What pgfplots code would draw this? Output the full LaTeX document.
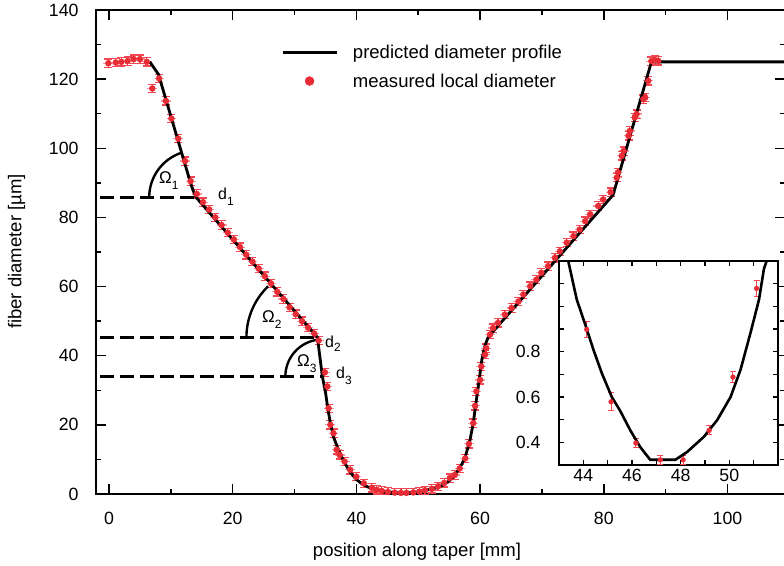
\documentclass[border=0pt]{standalone}
\usepackage{fontspec}
\setmainfont{Liberation Sans}
\usepackage{pgfplots}
\pgfplotsset{compat=1.18}

\definecolor{mred}{RGB}{232,44,54}
\definecolor{ebar}{RGB}{242,70,80}

% measured local diameter along the taper (position in mm, diameter in um)
\pgfplotstableread{
x y
-0.1 124.6
1.1 124.8
2.0 125.0
3.0 125.2
4.0 125.8
5.0 125.8
6.1 125.0
7.0 117.3
8.1 120.2
9.2 113.7
10.1 108.6
11.2 102.8
12.3 96.3
13.2 90.5
14.2 86.8
15.2 84.4
16.2 82.3
17.2 80.0
18.2 77.8
19.2 75.6
20.2 73.6
21.2 71.4
22.2 69.2
23.2 67.2
24.2 65.2
25.2 63.0
26.2 60.9
27.2 58.5
28.2 56.4
29.2 54.0
30.2 52.0
31.2 50.0
32.2 48.1
33.2 46.4
33.9 44.4
34.9 35.2
35.3 31.1
35.5 24.8
35.8 20.0
36.3 17.6
36.8 12.8
37.3 11.3
38.1 9.4
39.0 7.0
40.0 5.0
41.2 3.1
42.5 1.8
43.3 1.2
44.1 0.90
45.1 0.58
46.2 0.40
47.2 0.32
48.1 0.32
49.2 0.45
50.2 0.69
51.1 1.08
52.2 1.5
53.2 2.2
54.2 3.2
55.1 4.6
55.9 5.5
56.7 7.4
57.6 10.3
58.2 14.5
58.9 20.5
59.2 25.5
59.4 29.7
60.0 33.0
60.2 36.9
60.8 40.3
61.0 42.2
61.6 46.1
62.1 48.0
62.9 49.5
64.0 51.9
65.1 53.8
66.2 55.7
67.0 57.7
68.1 60.1
69.1 62.0
69.9 64.0
71.0 65.9
72.1 68.3
72.9 70.2
74.0 72.7
75.1 74.6
76.1 76.5
77.0 78.9
77.8 80.9
79.1 83.3
79.9 85.2
81.1 87.3
82.1 91.5
82.3 93.0
82.9 97.8
83.2 99.2
84.0 103.6
84.2 105.0
85.0 108.9
85.3 109.9
86.4 114.2
86.7 114.7
87.2 119.5
87.7 125.2
88.3 125.5
88.8 125.3
}\measured

% predicted diameter profile
\pgfplotstableread{
x y
6.6 125.0
8.0 121.4
13.1 90.5
13.6 87.8
14.1 85.8
33.7 45.3
34.5 34.0
35.0 29.5
35.4 24.5
35.8 20.5
36.3 16.5
37.1 12.8
38.0 9.3
39.0 6.3
40.0 4.2
41.0 2.8
42.0 1.9
43.0 1.35
43.38 1.2
43.73 1.03
44.14 0.90
44.41 0.81
44.76 0.705
45.17 0.60
45.51 0.54
45.93 0.453
46.34 0.379
46.75 0.323
47.78 0.323
48.26 0.357
48.95 0.424
49.5 0.498
50.05 0.60
50.46 0.72
50.87 0.883
51.22 1.03
51.42 1.164
51.53 1.2
52.0 1.4
53.0 1.8
54.0 2.6
55.0 3.8
55.7 5.0
56.5 7.0
57.1 8.8
57.6 10.8
58.3 15.0
58.9 20.5
59.3 26.0
59.7 31.0
60.0 35.0
60.3 39.0
60.8 43.0
61.3 45.3
62.1 47.0
81.5 86.5
87.7 125.0
112 125.0
}\predicted

% waist region, with diameter uncertainty
\pgfplotstableread{
x y ey
44.14 0.898 0.035
45.14 0.579 0.04
46.16 0.397 0.02
47.16 0.323 0.02
48.10 0.323 0.02
49.17 0.453 0.02
50.15 0.688 0.025
51.12 1.079 0.035
}\waist

\pgfplotsset{
  fiberstyle/.style={
    scale only axis,
    tick align=inside,
    axis line style={line width=1.8bp},
    every tick/.style={line width=1.5bp, black},
    tick label style={font=\fontsize{17.8}{20}\selectfont},
    /pgf/number format/assume math mode=true,
  },
}

% legend text set in boxes of equal width, so both entries start at the same x
\newcommand{\legtext}[1]{\makebox[222bp][l]{\hspace*{13bp}#1}}

\begin{document}
\begin{tikzpicture}
\path[use as bounding box] (0bp,0bp) rectangle (784bp,-566bp);

\begin{axis}[
  fiberstyle,
  at={(96bp,-494bp)}, anchor=south west,
  width=689bp, height=484bp,
  xmin=-2.1, xmax=109.3, ymin=0, ymax=140,
  xtick={0,20,...,100}, minor x tick num=1,
  ytick={0,20,...,140}, minor y tick num=1,
  major tick length=10bp, minor tick length=5bp,
  xticklabel style={yshift=-15bp},
  yticklabel style={xshift=-14bp},
  xlabel={position along taper [mm]},
  ylabel={fiber diameter [µm]},
  label style={font=\fontsize{18.6}{22}\selectfont},
  xlabel style={at={(axis description cs:0.4659,-0.1198)}, anchor=center},
  ylabel style={at={(axis description cs:-0.1154,0.501)}, anchor=center},
  legend cell align=left,
  legend style={draw=none, fill=none, at={(axis description cs:0.2641,0.937)},
    anchor=north west, font=\fontsize{18.6}{22}\selectfont, row sep=10bp},
]
% horizontal position uncertainty
\addplot[forget plot, only marks, mark=none,
  error bars/.cd, x dir=both, x fixed=0.8, error mark=none,
  error bar style={color=ebar!55, line width=1.2bp}] table[x=x,y=y] {\measured};
% diameter uncertainty and measured points
\addplot[forget plot, only marks, mark=*, mark size=3bp, color=mred,
  error bars/.cd, y dir=both, y fixed=1.2,
  error bar style={color=ebar, line width=1.2bp},
  error mark options={color=ebar, mark size=4bp, line width=1.2bp, rotate=90}] table[x=x,y=y] {\measured};

% reference levels d1, d2, d3
\addplot[forget plot, black, line width=2.6bp, dash pattern=on 14bp off 6bp] coordinates {(-1.46,85.8) (14.1,85.8)};
\addplot[forget plot, black, line width=2.6bp, dash pattern=on 14bp off 6bp] coordinates {(-1.46,45.2) (33.7,45.2)};
\addplot[forget plot, black, line width=2.6bp, dash pattern=on 14bp off 6bp] coordinates {(-1.46,34.0) (34.5,34.0)};

% taper angles
\draw[line width=2.4bp] (axis cs:14.1,85.8) ++(180:47bp) arc[start angle=180, end angle=109, radius=47bp];
\draw[line width=2.4bp] (axis cs:33.7,45.3) ++(180:71bp) arc[start angle=180, end angle=134, radius=71bp];
\draw[line width=2.4bp] (axis cs:34.5,34.0) ++(180:37bp) arc[start angle=180, end angle=97, radius=37bp];

\addplot[forget plot, black, line width=2.8bp] table[x=x,y=y] {\predicted};

\addlegendimage{legend image code/.code={\draw[black, line width=2.8bp] (0bp,0bp) -- (54bp,0bp);}}
\addlegendentry{\legtext{predicted diameter profile}}
\addlegendimage{legend image code/.code={\path[draw=none, fill=none] (0bp,0bp) -- (54bp,0bp); \fill[mred] (27bp,0bp) circle (4.5bp);}}
\addlegendentry{\legtext{measured local diameter}}
\end{axis}

% labels of the angles and diameters
\node[anchor=base west, inner sep=0pt, font=\fontsize{17}{20}\selectfont] at (159bp,-183.3bp) {Ω\raisebox{-6bp}{\fontsize{12}{12}\selectfont 1}};
\node[anchor=base west, inner sep=0pt, font=\fontsize{16}{20}\selectfont] at (218bp,-199bp) {d\raisebox{-6bp}{\fontsize{12}{12}\selectfont 1}};
\node[anchor=base west, inner sep=0pt, font=\fontsize{17}{20}\selectfont] at (262bp,-322.7bp) {Ω\raisebox{-6bp}{\fontsize{12}{12}\selectfont 2}};
\node[anchor=base west, inner sep=0pt, font=\fontsize{16}{20}\selectfont] at (325bp,-347bp) {d\raisebox{-4bp}{\fontsize{12}{12}\selectfont 2}};
\node[anchor=base west, inner sep=0pt, font=\fontsize{17}{20}\selectfont] at (297bp,-366bp) {Ω\raisebox{-6bp}{\fontsize{12}{12}\selectfont 3}};
\node[anchor=base west, inner sep=0pt, font=\fontsize{16}{20}\selectfont] at (336bp,-378bp) {d\raisebox{-6bp}{\fontsize{12}{12}\selectfont 3}};

% close-up of the waist
\begin{axis}[
  fiberstyle,
  at={(559bp,-465bp)}, anchor=south west,
  width=219bp, height=204bp,
  xmin=43, xmax=52, ymin=0.3, ymax=1.2,
  xtick={44,46,48,50}, minor xtick={43,45,47,49,51},
  ytick={0.4,0.6,0.8}, minor ytick={0.3,0.5,0.7,0.9,1.0,1.1,1.2},
  major tick length=5bp, minor tick length=5bp,
  xticklabel style={yshift=-1bp},
  yticklabel style={xshift=-15bp},
  axis background/.style={fill=white},
]
\addplot[only marks, mark=*, mark size=2.4bp, color=mred,
  error bars/.cd, y dir=both, y explicit,
  error bar style={color=ebar, line width=1bp},
  error mark options={color=ebar, mark size=3bp, line width=1bp, rotate=90}] table[x=x,y=y,y error=ey] {\waist};
\addplot[black, line width=2.6bp, restrict x to domain=42.9:52.1] table[x=x,y=y] {\predicted};
\end{axis}
\end{tikzpicture}
\end{document}
